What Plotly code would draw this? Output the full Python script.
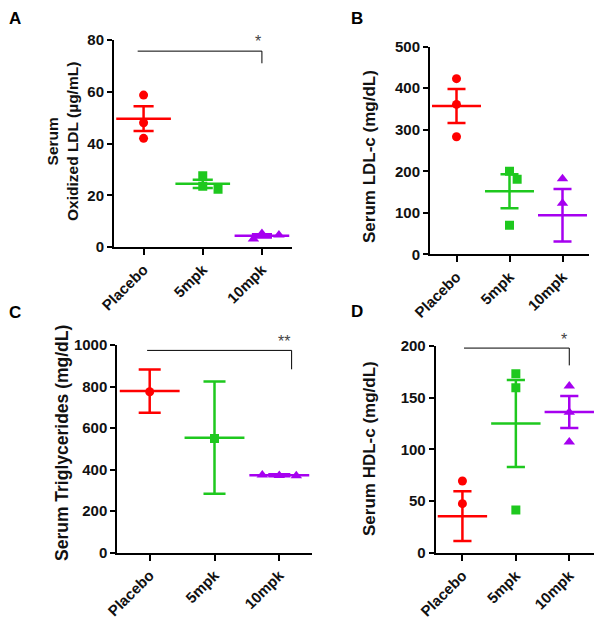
import plotly.graph_objects as go

OFF = 8                      # page offset of the plot div inside the browser window
WIN_W, WIN_H = 602, 622
W, H = WIN_W - OFF, WIN_H - OFF

categories = ["Placebo", "5mpk", "10mpk"]
colors = ["#FF0000", "#1EC81E", "#A600F0"]
symbols = ["circle", "square", "triangle-up"]

# Panel A: Serum oxidized LDL (ug/mL)
A_points = [[58.7, 48.0, 42.0], [27.5, 23.5, 22.3], [5.2, 4.6, 3.1]]
A_mean = [49.6, 24.4, 4.3]
A_sem = [4.8, 1.6, 0.6]

# Panel B: Serum LDL-c (mg/dL)
B_points = [[423, 361, 283], [200, 181, 70], [182, 123]]
B_mean = [357, 152, 94]
B_sem = [41, 41, 63]

# Panel C: Serum triglycerides (mg/dL)
C_points = [[775], [550], [372, 370, 374]]
C_mean = [778, 554, 373]
C_sem = [104, 270, 5]

# Panel D: Serum HDL-c (mg/dL)
D_points = [[69.5, 47.6], [173, 159.5, 41.5], [161, 135.7, 107]]
D_mean = [35.5, 125, 136]
D_sem = [24, 42, 15.5]

# significance brackets: (x_left, x_right, y_line, y_tick_end, label, label_x, label_y)
A_sig = [-0.1, 2.0, 75.7, 71.0, "*", 1.93, 79.5]
C_sig = [-0.04, 2.19, 974, 883, "**", 2.07, 1015]
D_sig = [0.03, 2.0, 197.7, 181, "*", 1.9, 206]

panels = [
    dict(letter="A", pts=A_points, mean=A_mean, sem=A_sem, ymax=80, dtick=20,
         xpx=(114, 291.5), ypx=(40, 247), sig=A_sig,
         title="Serum<br>Oxidized LDL (µg/mL)", tpos=(62, 142), tsize=15.5,
         lpos=(8, 8)),
    dict(letter="B", pts=B_points, mean=B_mean, sem=B_sem, ymax=500, dtick=100,
         xpx=(430, 589), ypx=(46.7, 254.3), sig=None,
         title="Serum LDL-c (mg/dL)", tpos=(369, 157), tsize=17,
         lpos=(350, 8)),
    dict(letter="C", pts=C_points, mean=C_mean, sem=C_sem, ymax=1000, dtick=200,
         xpx=(117.3, 311.7), ypx=(345, 552.7), sig=C_sig,
         title="Serum Triglycerides (mg/dL)", tpos=(62, 443), tsize=17.5,
         lpos=(8, 302)),
    dict(letter="D", pts=D_points, mean=D_mean, sem=D_sem, ymax=200, dtick=50,
         xpx=(435.7, 596), ypx=(345.7, 553), sig=D_sig,
         title="Serum HDL-c (mg/dL)", tpos=(369, 449), tsize=17,
         lpos=(350, 301)),
]

FONT = "Arial, Liberation Sans, sans-serif"
fig = go.Figure()
annotations = []


def px2paper_x(x):
    return (x - OFF) / W


def px2paper_y(y):
    return 1 - (y - OFF) / H


def swarm(vals, ypu, xpu, msize):
    placed = []
    xs = []
    for v in vals:
        dx = 0.0
        for off in [0, 1, -1, 2, -2]:
            cand = off * msize * 0.85
            ok = all((cand - px) ** 2 + ((v - pv) * ypu) ** 2 >= (msize * 0.95) ** 2
                     for px, pv in placed)
            if ok:
                dx = cand
                break
        placed.append((dx, v))
        xs.append(dx / xpu)
    return xs


for k, p in enumerate(panels):
    i = k + 1
    xa = "x" if i == 1 else f"x{i}"
    ya = "y" if i == 1 else f"y{i}"
    x0, x1 = p["xpx"]
    yt, yb = p["ypx"]
    xpu = (x1 - x0) / 3.0
    ypu = (yb - yt) / p["ymax"]
    mean_len = 0.66 * xpu
    cap_half = 0.17 * xpu

    for g in range(3):
        fig.add_trace(go.Scatter(
            x=[g], y=[p["mean"][g]], xaxis=xa, yaxis=ya, mode="markers",
            marker=dict(symbol="line-ew", size=mean_len, color=colors[g],
                        line=dict(color=colors[g], width=2.5)),
            error_y=dict(type="data", array=[p["sem"][g]], visible=True,
                         color=colors[g], thickness=2.5, width=cap_half),
            showlegend=False, hoverinfo="skip"))
        ms = 10 if symbols[g] == "triangle-up" else 9
        offs = swarm(p["pts"][g], ypu, xpu, ms)
        fig.add_trace(go.Scatter(
            x=[g + o for o in offs], y=p["pts"][g], xaxis=xa, yaxis=ya,
            mode="markers",
            marker=dict(symbol=symbols[g], size=ms, color=colors[g]),
            showlegend=False, hoverinfo="skip"))

    if p["sig"] is not None:
        xl, xr, yl, ye, lab, lx, ly = p["sig"]
        fig.add_trace(go.Scatter(
            x=[xl, xr, xr], y=[yl, yl, ye], xaxis=xa, yaxis=ya, mode="lines",
            line=dict(color="black", width=1), showlegend=False,
            hoverinfo="skip", cliponaxis=False))
        annotations.append(dict(x=(lx + 0.5) / 3.0, y=ly / p["ymax"],
                                xref=f"{xa} domain", yref=f"{ya} domain", text=lab,
                                showarrow=False,
                                font=dict(family=FONT, size=16, color="#444444"),
                                xanchor="center", yanchor="middle"))

    xdom = [px2paper_x(x0), px2paper_x(x1)]
    ydom = [px2paper_y(yb), px2paper_y(yt)]
    axis_common = dict(showline=True, linecolor="black", linewidth=2, ticks="outside",
                       tickcolor="black", tickwidth=2, showgrid=False, zeroline=False,
                       automargin=False,
                       tickfont=dict(family=FONT, size=15, color="#111111", weight="bold"))
    xkey = "xaxis" if i == 1 else f"xaxis{i}"
    ykey = "yaxis" if i == 1 else f"yaxis{i}"
    fig.update_layout(**{
        xkey: dict(domain=xdom, range=[-0.5, 2.5], tickvals=[0, 1, 2],
                   ticktext=categories, tickangle=-45, ticklen=6,
                   anchor=ya, **axis_common),
        ykey: dict(domain=ydom, range=[0, p["ymax"]], tick0=0, dtick=p["dtick"],
                   ticklen=5, anchor=xa, **axis_common),
    })
    tx, ty = p["tpos"]
    annotations.append(dict(x=px2paper_x(tx), y=px2paper_y(ty), xref="paper", yref="paper",
                            text=p["title"], textangle=-90, showarrow=False,
                            xanchor="center", yanchor="middle",
                            font=dict(family=FONT, size=p["tsize"], color="#111111", weight="bold")))
    lx, ly = p["lpos"]
    annotations.append(dict(x=px2paper_x(lx), y=px2paper_y(ly), xref="paper", yref="paper",
                            text=p["letter"], showarrow=False, borderpad=0,
                            xanchor="left", yanchor="top",
                            font=dict(family=FONT, size=17, color="black", weight="bold")))

fig.update_layout(width=W, height=H, margin=dict(l=0, r=0, t=0, b=0, autoexpand=False),
                  paper_bgcolor="white", plot_bgcolor="white",
                  annotations=annotations, showlegend=False)

fig.write_html("out.html")
